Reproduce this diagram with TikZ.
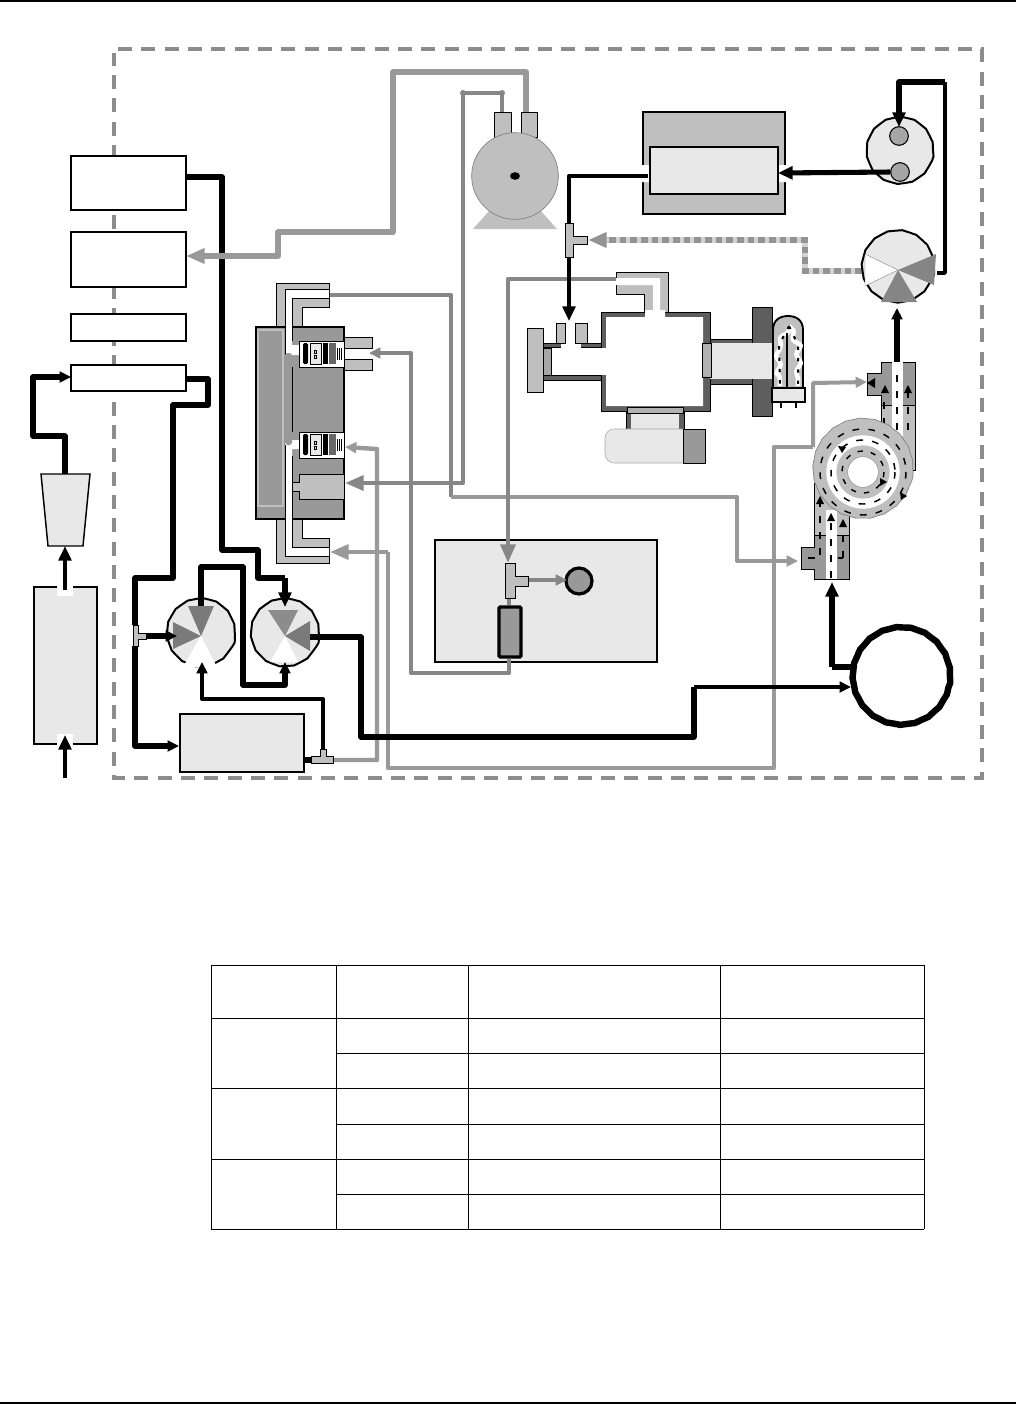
\documentclass[tikz,border=0pt]{standalone}
\usepackage{xcolor}
\usepackage{tikz}
\usetikzlibrary{positioning,arrows.meta,fit,calc,decorations.pathmorphing}
\definecolor{lightfill}{gray}{0.91}
\definecolor{midfill}{gray}{0.75}
\definecolor{darkfill}{gray}{0.6}
\definecolor{wallfill}{gray}{0.37}
\definecolor{pipegray}{gray}{0.6}
\definecolor{pipedark}{gray}{0.53}
\tikzset{
  box/.style={draw,line width=1.5pt,inner sep=0pt,fill=white},
  wavy/.style={decorate,decoration={snake,amplitude=0.25pt,segment length=11pt}},
  valve/.style={circle,draw,line width=1.5pt,fill=lightfill,inner sep=0pt,minimum size=51pt,wavy},
  part/.style={draw,line width=0.7pt},
  pipeK/.style={line width=3.8pt,line join=round},
  pipeT/.style={line width=2.6pt,line join=round},
  pipeG/.style={line width=3.3pt,pipegray,line join=round},
  pipeD/.style={line width=3.2pt,pipedark,line join=round},
  tipL/.style={-{Triangle[length=11pt,width=9.5pt]}},
  tipS/.style={-{Triangle[length=8.5pt,width=8pt]}},
  tipG/.style={-{Triangle[length=14pt,width=11pt]}},
  flowdash/.style={line width=1.1pt,dash pattern=on 5pt off 7pt},
}
\begin{document}
\begin{tikzpicture}[x=0.75pt,y=-0.75pt]
    \useasboundingbox (0,0) rectangle (1016,1404);
    % page rules
    \draw[line width=1.5pt] (0,0.6) -- (1016,0.6);
    \draw[line width=1.5pt] (0,1403) -- (1016,1403);
    % enclosure
    \draw[line width=3.5pt,gray!90,dash pattern=on 10.5pt off 7pt] (118,49) -- (982,49) -- (982,778) -- (114,778) -- (114,53);
    % ports on the left
    \node[box,fit={(71,156) (186,210)}] (portA) {};
    \node[box,fit={(71,232) (186,287)}] (portB) {};
    \node[box,fit={(71,314) (186,341)}] (portC) {};
    \node[box,fit={(71,365) (186,391)}] (portD) {};
    % scrubber and filter outside the enclosure
    \node[box,line width=2.2pt,fit={(34,587) (97,744)},fill=lightfill] (scrubber) {};
    \fill[white] (57,585) rectangle (73,596);
    \fill[white] (57,734) rectangle (73,746);
    \draw[part,line width=1.1pt,fill=lightfill] (41,474) -- (90,474) -- (83,546) -- (48,546) -- cycle;
    \coordinate (filter) at (65,546);
    \coordinate (filtertop) at (65,474);
    \coordinate (inlet) at (65,778);
    \draw[pipeT,line width=3pt,tipL] (inlet) -- (65,735);
    \draw[pipeT,line width=3pt,tipL] (65,590) -- (filter);
    \draw[pipeK,tipS] (filtertop) -- (65,436) -- (33,436) -- (33,377) -- (71,377);
    % pump box and the light block in the middle
    \node[box,fit={(180,714) (304,772)},fill=lightfill] (pumpbox) {};
    \node[draw,line width=0.8pt,fill=lightfill,inner sep=0pt,fit={(435,540) (657,662)}] (flowbox) {};
    % reaction cell: elbows
    \draw[part,fill=midfill] (276,283) -- (329,283) -- (329,307) -- (302,307) -- (302,327) -- (276,327) -- cycle;
    \draw[part,fill=midfill] (276,519) -- (276,563) -- (329,563) -- (329,538) -- (302,538) -- (302,519) -- cycle;
    \draw[part,fill=darkfill,line width=1pt] (256,327) rectangle (344,519);
    \draw[midfill,line width=0.8pt] (258,330) rectangle (283,506);
    \fill[white] (285,289) -- (329,289) -- (329,298) -- (292,298) -- (292,345) -- (299,345) -- (299,355) -- (285,355) -- cycle;
    \draw[part] (285,355) -- (285,289) -- (329,289) (329,298) -- (292,298) -- (292,341);
    \fill[white] (285,440) -- (299,440) -- (299,449) -- (292,449) -- (292,547) -- (329,547) -- (329,556) -- (285,556) -- cycle;
    \draw[part] (285,445) -- (285,556) -- (329,556) (329,547) -- (292,547) -- (292,456);
    \fill[darkfill,rounded corners=2pt] (285,353) rectangle (292,445);
    \draw[part] (292,367) -- (292,432);
    % optical sensors
    \foreach \yy in {341,432} {
      \draw[part,fill=white] (299,\yy) rectangle (344,\yy+26);
      \fill[black,rounded corners=1pt] (303,\yy+2) rectangle (308,\yy+23);
      \draw[part,fill=lightfill] (310,\yy+2) rectangle (321,\yy+23);
      \draw[line width=0.5pt] (314,\yy+9) rectangle (316,\yy+12) (314,\yy+14) rectangle (316,\yy+17);
      \fill[black] (323,\yy+2) rectangle (328,\yy+23);
      \fill[black!60] (329,\yy+2) rectangle (336,\yy+23);
      \foreach \k in {337,339,341} {
        \draw[line width=0.4pt] (\k,\yy+7) -- (\k,\yy+19);
      }
    }
    \draw[part,fill=midfill] (344,337) rectangle (372,348) (344,359) rectangle (372,370);
    \draw[part,fill=midfill] (292,482) -- (299,482) -- (299,474) -- (344,474) -- (344,499) -- (299,499) -- (299,491) -- (292,491) -- cycle;
    % valves below the optical bench
    \node[valve] (valveA) at (201,636) {};
    \node[valve] (valveB) at (285,636) {};
    \fill[black!52] (valveA.center) -- (188,606) -- (214,606) -- cycle;
    \fill[black!52] (valveA.center) -- (173,622) -- (173,649) -- cycle;
    \fill[white] (valveA.center) -- (183,667) -- (217,667) -- cycle;
    \fill[black!45] (valveB.center) -- (268,610) -- (298,610) -- cycle;
    \fill[black!52] (valveB.center) -- (310,621) -- (310,651) -- cycle;
    \fill[white] (valveB.center) -- (270,662) -- (298,662) -- cycle;
    % block in the middle
    \node[circle,draw,line width=2.4pt,fill=darkfill,inner sep=0pt,minimum size=19.5pt] (flowsensor) at (579,581) {};
    \node[draw,line width=2.6pt,fill=darkfill,inner sep=0pt,rounded corners=1pt,fit={(499,607) (521,657)}] (restrictor) {};
    % grey lines, under the black ones
    \draw[pipeD,line width=3pt] (330,295) -- (451,295) -- (451,497);
    \draw[pipeG,tipS,line width=3pt] (451,497) -- (737,497) -- (737,561) -- (798,561);
    \draw[pipeD,line width=3.6pt,tipS] (restrictor.south -| 509,0) -- (509,673) -- (411,673) -- (411,353) -- (369,353);
    \draw[pipeG,tipS] (333,760) -- (377,760) -- (377,449) -- (345,447);
    \draw[pipeD,tipG] (502,112) -- (502,93) -- (463,93) -- (463,483) -- (345,483);
    \fill[pipedark] (463,93) circle (3) (502,93) circle (3);
    \draw[pipeG,tipG] (388,552) -- (330,552);
    \draw[pipeG] (388,552) -- (388,768) -- (774,768) -- (774,447) -- (813,447);
    \draw[pipeG,tipS,line width=3pt] (813,447) -- (813,383) -- (867,382);
    % sampling path to the block
    \draw[pipeD,tipG] (616,279) -- (508,279) -- (508,563);
    \draw[pipeD] (509,598) -- (restrictor.north -| 509,0);
    \draw[pipeD,tipS] (528,580) -- (567,580);
    % black lines
    \draw[pipeK] (portA.east |- 0,177) -- (222,177) -- (222,550) -- (258,550) -- (258,578) -- (285,578);
    \draw[pipeK,tipL] (285,578) -- (285,607);
    \draw[pipeK] (186,379) -- (208,379) -- (208,405) -- (173,405) -- (173,578) -- (135,578) -- (135,625);
    \draw[pipeK,line width=4.4pt,tipS] (135,646) -- (135,746) -- (pumpbox.west |- 0,746);
    \draw[pipeK,tipS] (146,636) -- (177,636);
    \draw[pipeK,tipS] (201,606) -- (201,567) -- (243,567) -- (243,685) -- (285,685) -- (285,662);
    \draw[pipeT,line width=3pt,tipS] (323,749) -- (323,699) -- (202,699) -- (202,662);
    \draw[pipeK] (304,760) -- (312,760);
    \draw[pipeK] (310,637) -- (361,637) -- (361,737) -- (694,737) -- (694,687);
    \draw[pipeT,tipS] (694,687) -- (851,687);
    \draw[pipeK] (852,667) -- (832,667);
    \draw[pipeK,tipL] (832,667) -- (832,582);
    % grey line to port B goes over the black one
    \draw[pipeG,line width=4.2pt,tipG] (526,112) -- (526,72) -- (393,72) -- (393,232) -- (278,232) -- (278,256) -- (186,256);
    % tees
    \draw[part,fill=midfill] (133,625) -- (138,625) -- (138,633) -- (146,633) -- (146,639) -- (138,639) -- (138,646) -- (133,646) -- cycle;
    \draw[part,fill=midfill] (311,756) -- (320,756) -- (320,749) -- (326,749) -- (326,756) -- (333,756) -- (333,763) -- (311,763) -- cycle;
    \draw[part,fill=midfill] (505,563) -- (515,563) -- (515,576) -- (528,576) -- (528,586) -- (515,586) -- (515,598) -- (505,598) -- cycle;
    % compressor
    \fill[midfill] (473,229) -- (490,210) -- (540,210) -- (557,229) -- cycle;
    \draw[part,fill=midfill] (494,112) rectangle (511,137) (521,112) rectangle (537,137);
    \node[circle,draw=gray,line width=0.5pt,fill=midfill,inner sep=0pt,minimum size=65pt] (compressor) at (515,176) {};
    \fill[black] (compressor.center) ellipse (5 and 3.8);
    % oven
    \node[box,line width=1.2pt,fill=midfill,fit={(643,112) (785,214)}] (ovenbox) {};
    \fill[white] (641,165) rectangle (650,182) (778,165) rectangle (787,182);
    \node[box,line width=1.2pt,fill=lightfill,fit={(650,147) (778,194)}] (oven) {};
    \draw[pipeT,line width=3.2pt] (648,176) -- (569,176) -- (569,223);
    \draw[pipeT,line width=3.2pt,tipL] (569,257) -- (569,321);
    \draw[part,fill=midfill] (565,223) -- (573,223) -- (573,236) -- (587,236) -- (587,244) -- (573,244) -- (573,257) -- (565,257) -- cycle;
    % dotted line from the selector
    \draw[line width=3.8pt,gray!35,line join=round] (862,271) -- (805,271) -- (805,240) -- (600,240);
    \draw[line width=3.8pt,gray!85,dash pattern=on 5pt off 3pt,tipG] (862,271) -- (805,271) -- (805,240) -- (588,240);
    % optical chamber
    \draw[part,fill=midfill] (616,272) -- (668,272) -- (668,312) -- (644,312) -- (644,294) -- (616,294) -- cycle;
    \fill[white] (616,278) -- (660,278) -- (660,312) -- (653,312) -- (653,285) -- (616,285) -- cycle;
    \draw[part,fill=wallfill] (601,312) rectangle (710,411);
    \fill[white] (606,317) rectangle (703,406) (645,310) rectangle (665,318);
    \draw[part,fill=wallfill] (543,343) rectangle (601,347) (543,375) rectangle (601,380);
    \fill[white] (543,347.5) rectangle (607,374.5);
    \fill[white] (561,342) rectangle (581,348);
    \draw[part,fill=midfill] (556,323) rectangle (565,343) (575,323) rectangle (587,343);
    \draw[part,fill=midfill] (527,328) rectangle (543,392);
    \draw[part,fill=black!35] (543,348) rectangle (551,375);
    \draw[part,fill=wallfill] (710,339) rectangle (752,384);
    \draw[part,fill=wallfill] (752,307) rectangle (772,416);
    \fill[lightfill] (710,343) rectangle (772,379);
    \draw[part,fill=black!30] (702,343) rectangle (711,377);
    \draw[part,fill=wallfill] (626,411) rectangle (684,429);
    \fill[lightfill] (631,413) rectangle (679,429);
    \draw[part,fill=black!30] (627,407) rectangle (683,413);
    \draw[gray!70,line width=0.4pt,fill=lightfill,rounded corners=7pt] (683,429) -- (605,429) -- (605,463) -- (683,463);
    \draw[part,fill=darkfill] (683,429) rectangle (705,463);
    % lamp
    \draw[line width=1.4pt,fill=midfill] (773,388) -- (773,330) .. controls (773,320) and (780,316) .. (788,316) .. controls (796,316) and (803,320) .. (803,330) -- (803,388) -- cycle;
    \draw[white,line width=3.4pt,decorate,decoration={snake,amplitude=1.6pt,segment length=13pt}] (789,326) -- (779,345) -- (780,386);
    \draw[white,line width=3.4pt,decorate,decoration={snake,amplitude=1.6pt,segment length=13pt}] (789,326) -- (798,345) -- (798,386);
    \draw[black,line width=1.5pt,dash pattern=on 2.5pt off 6pt] (789,326) -- (779,345) -- (780,386);
    \draw[black,line width=1.5pt,dash pattern=on 2.5pt off 6pt] (789,326) -- (798,345) -- (798,386);
    \draw[line width=1.2pt] (787,333) -- (787,388);
    \draw[line width=1.4pt,fill=lightfill] (772,388) rectangle (805,402);
    \foreach \k in {781,796} {
      \draw[line width=2pt] (\k,402) -- (\k,408);
    }
    % selector and ozone valve upper right
    \node[valve,minimum size=50pt] (selector) at (900,154) {};
    \node[circle,draw,line width=0.8pt,fill=black!35,inner sep=0pt,minimum size=14pt] (cupA) at (899,136) {};
    \node[circle,draw,line width=0.8pt,fill=black!35,inner sep=0pt,minimum size=14pt] (cupB) at (900,172) {};
    \draw[pipeK,tipL] (cupB.west) -- (778,173);
    \node[valve,minimum size=54pt] (switchvalve) at (898,270) {};
    \draw[gray,line width=0.3pt,fill=white] (switchvalve.center) -- (865,254) -- (865,286) -- cycle;
    \fill[black!48] (switchvalve.center) -- (936,254) -- (934,285) -- cycle;
    \fill[black!48] (switchvalve.center) -- (881,302) -- (917,302) -- cycle;
    \draw[pipeT] (937,273) -- (945,273) -- (945,82);
    \draw[pipeK,tipL] (945,82) -- (899,82) -- (899,127);
    \draw[pipeK,tipS] (897,362) -- (897,308);
    % pneumatic manifolds and the pump head
    \draw[part,fill=midfill] (881,405) rectangle (915,470);
    \draw[part,fill=darkfill] (881,362) -- (915,362) -- (915,405) -- (881,405) -- (881,395) -- (867,395) -- (867,373) -- (881,373) -- cycle;
    \fill[white] (892,362) rectangle (903,436);
    \draw[part,fill=midfill] (814,483) rectangle (849,535);
    \draw[part,fill=darkfill] (814,535) -- (849,535) -- (849,579) -- (814,579) -- (814,569) -- (801,569) -- (801,547) -- (814,547) -- cycle;
    \fill[white] (826,510) rectangle (837,579);
    \draw[flowdash] (897,430) -- (897,370);
    \draw[flowdash] (884,425) -- (884,392);
    \draw[flowdash] (908,430) -- (908,392);
    \draw[flowdash] (820,555) -- (820,500);
    \draw[flowdash] (831,578) -- (831,515);
    \draw[flowdash] (843,558) -- (843,521);
    \draw[flowdash] (808,558) -- (820,558);
    \draw[flowdash] (838,558) -- (843,558);
    \node[circle,draw=gray,line width=0.5pt,fill=midfill,inner sep=0pt,minimum size=75pt,wavy] (pumphead) at (863,472) {};
    \node[circle,fill=white,inner sep=0pt,minimum size=55pt] (ringA) at (pumphead.center) {};
    \node[circle,fill=midfill,inner sep=0pt,minimum size=40pt] (ringB) at (pumphead.center) {};
    \node[circle,draw=gray,line width=0.3pt,fill=white,inner sep=0pt,minimum size=23pt] (ringC) at (pumphead.center) {};
    \draw[flowdash] (pumphead.center) circle (43);
    \draw[flowdash] (pumphead.center) circle (32);
    \draw[flowdash,dash pattern=on 4pt off 6pt] (pumphead.center) circle (21);
    % flow arrow heads
    \foreach \x/\y in {885/385, 908/385, 820/496, 831/513, 843/519} {
      \fill (\x,\y) -- ++(-4,8) -- ++(8,0) -- cycle;
    }
    \fill (867,383) -- (875,378) -- (875,388) -- cycle;
    \fill (838,446) -- (846,447) -- (842,453) -- cycle;
    \fill (900,492) -- (907,496) -- (901,500) -- cycle;
    \fill (880,478) -- (887,482) -- (880,486) -- cycle;
    % pump
    \node[circle,draw,line width=4.8pt,fill=white,inner sep=0pt,minimum size=73pt,wavy] (pump) at (901.5,679.5) {};
    % table
    \foreach \x in {211,336,468,720,924} {
      \draw[line width=0.75pt] (\x,965) -- (\x,1229);
    }
    \foreach \y in {965,1018,1088,1159,1229} {
      \draw[line width=0.75pt] (211,\y) -- (924,\y);
    }
    \foreach \y in {1053,1124,1194} {
      \draw[line width=0.75pt] (336,\y) -- (924,\y);
    }
\end{tikzpicture}
\end{document}
